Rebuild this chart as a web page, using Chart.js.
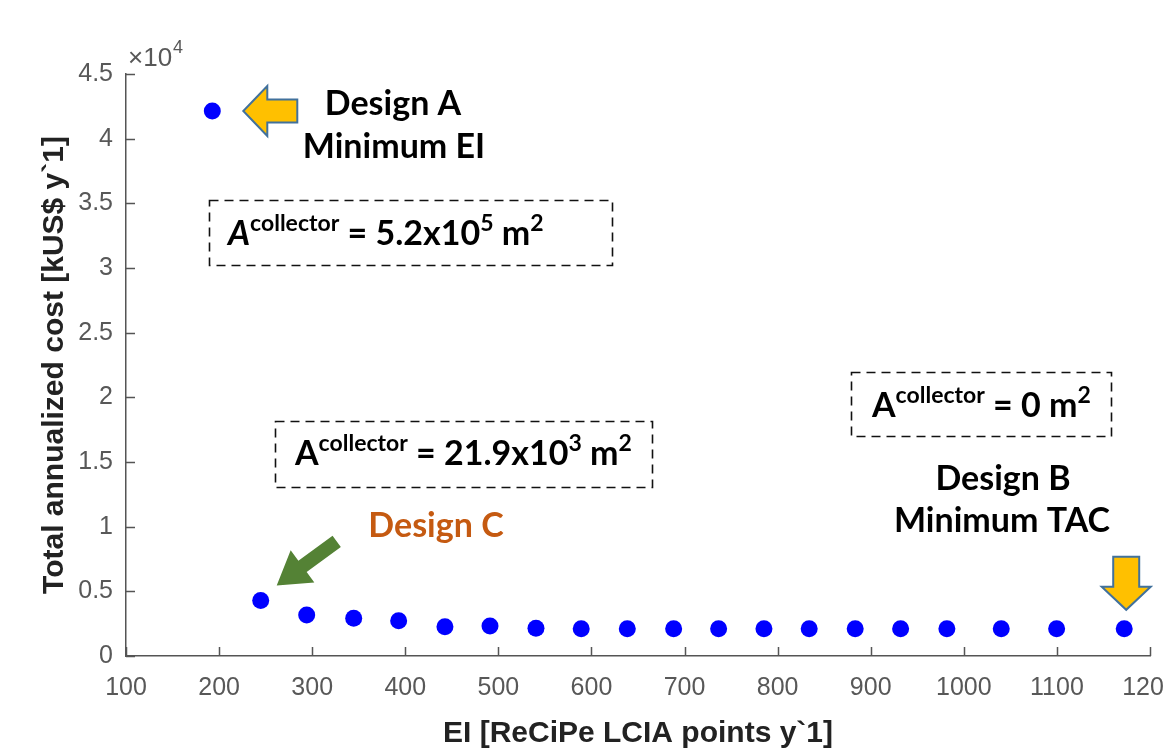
<!DOCTYPE html>
<html>
<head>
<meta charset="utf-8">
<script src="https://cdn.jsdelivr.net/npm/chart.js@4.4.1/dist/chart.umd.min.js"></script>
<style>
html,body{margin:0;padding:0;background:#fff;overflow:hidden;width:1163px;height:754px}
#wrap{position:relative;width:1250px;height:754px}
</style>
</head>
<body>
<div id="wrap"><canvas id="c"></canvas></div>
<script>
// ---- data ----
const eiValues  = [192.7, 244.7, 294.1, 344.6, 392.9, 442.6, 491.0, 540.4, 589.0, 638.5,
                   688.3, 736.6, 785.3, 833.9, 883.3, 932.1, 981.8, 1040.2, 1099.7, 1172.3];
const tacValues = [42140, 4300, 3170, 2910, 2730, 2260, 2320, 2140, 2110, 2110,
                   2110, 2110, 2110, 2110, 2110, 2110, 2110, 2100, 2100, 2100];
const xTickValues = [100, 200, 300, 400, 500, 600, 700, 800, 900, 1000, 1100, 1200];
const xTickLabels = ['100','200','300','400','500','600','700','800','900','1000','1100','1200'];
const yTickValues = [0, 5000, 10000, 15000, 20000, 25000, 30000, 35000, 40000, 45000];
const yTickLabels = ['0','0.5','1','1.5','2','2.5','3','3.5','4','4.5'];
const xTitle = 'EI [ReCiPe LCIA points y`1]';
const yTitle = 'Total annualized cost [kUS$ y`1]';

const AXIS = '#555555';
const TICKTXT = '#585858';
const ANN_FONT = 'Lato, "Open Sans", sans-serif';

Chart.defaults.font.family = '"Liberation Sans", Arial, sans-serif';

function drawRich(ctx, x, y, parts) {
  let cx = x;
  ctx.textAlign = 'left';
  ctx.textBaseline = 'alphabetic';
  parts.forEach(p => {
    ctx.font = (p.italic ? 'italic ' : '') + 'bold ' + p.size + 'px ' + ANN_FONT;
    ctx.fillStyle = p.color || '#000';
    ctx.fillText(p.t, cx, y - (p.rise || 0));
    cx += ctx.measureText(p.t).width;
  });
}
function dashedBox(ctx, x0, y0, x1, y1) {
  ctx.save();
  ctx.setLineDash([9, 6]);
  ctx.lineWidth = 1.6;
  ctx.strokeStyle = '#111';
  ctx.strokeRect(x0, y0, x1 - x0, y1 - y0);
  ctx.restore();
}
function centered(ctx, t, cx, y, size, color) {
  ctx.font = 'bold ' + size + 'px ' + ANN_FONT;
  ctx.fillStyle = color || '#000';
  ctx.textAlign = 'center';
  ctx.textBaseline = 'alphabetic';
  ctx.fillText(t, cx, y);
}
// block arrow pointing from tail to tip
function blockArrow(ctx, tx, ty, hx, hy, shaftW, headW, headL, fill, stroke) {
  const dx = hx - tx, dy = hy - ty, L = Math.hypot(dx, dy);
  const ux = dx / L, uy = dy / L, nx = -uy, ny = ux;
  const bx = hx - ux * headL, by = hy - uy * headL;
  const pts = [
    [tx + nx * shaftW / 2, ty + ny * shaftW / 2],
    [bx + nx * shaftW / 2, by + ny * shaftW / 2],
    [bx + nx * headW / 2, by + ny * headW / 2],
    [hx, hy],
    [bx - nx * headW / 2, by - ny * headW / 2],
    [bx - nx * shaftW / 2, by - ny * shaftW / 2],
    [tx - nx * shaftW / 2, ty - ny * shaftW / 2]
  ];
  ctx.save();
  ctx.beginPath();
  pts.forEach((p, i) => i ? ctx.lineTo(p[0], p[1]) : ctx.moveTo(p[0], p[1]));
  ctx.closePath();
  ctx.fillStyle = fill;
  ctx.fill();
  if (stroke) { ctx.lineWidth = 2; ctx.strokeStyle = stroke; ctx.lineJoin = 'miter'; ctx.stroke(); }
  ctx.restore();
}

const inwardTicks = {
  id: 'inwardTicks',
  afterDraw(chart) {
    const ctx = chart.ctx, xs = chart.scales.x, ys = chart.scales.y;
    const a = chart.chartArea;
    ctx.save();
    ctx.strokeStyle = AXIS;
    ctx.lineWidth = 1.5;
    ctx.beginPath();
    xs.ticks.forEach(t => {
      const px = Math.round(xs.getPixelForValue(t.value)) + 0.5;
      ctx.moveTo(px, a.bottom); ctx.lineTo(px, a.bottom - 9);
    });
    ys.ticks.forEach(t => {
      const py = Math.round(ys.getPixelForValue(t.value)) + 0.5;
      ctx.moveTo(a.left, py); ctx.lineTo(a.left + 9, py);
    });
    ctx.stroke();
    // exponent label
    ctx.fillStyle = TICKTXT;
    ctx.textAlign = 'left';
    ctx.textBaseline = 'alphabetic';
    ctx.font = '26px "Liberation Sans", Arial, sans-serif';
    ctx.fillText('\u00D710', a.left + 2, a.top - 8);
    const w = ctx.measureText('\u00D710').width;
    ctx.font = '18px "Liberation Sans", Arial, sans-serif';
    ctx.fillText('4', a.left + 3 + w, a.top - 21);
    ctx.restore();
  }
};

const annotations = {
  id: 'annotations',
  afterDraw(chart) {
    const ctx = chart.ctx, xs = chart.scales.x, ys = chart.scales.y;
    const pA = [xs.getPixelForValue(eiValues[0]), ys.getPixelForValue(tacValues[0])];
    const pC = [xs.getPixelForValue(eiValues[1]), ys.getPixelForValue(tacValues[1])];
    const n = eiValues.length - 1;
    const pB = [xs.getPixelForValue(eiValues[n]), ys.getPixelForValue(tacValues[n])];
    const YEL = '#FFC000', EDGE = '#41719C';
    // arrow to design A (pointing left)
    blockArrow(ctx, pA[0] + 85, pA[1], pA[0] + 31, pA[1], 23, 50, 24, YEL, EDGE);
    // arrow to design B (pointing down)
    blockArrow(ctx, pB[0] + 2, pB[1] - 72, pB[0] + 2, pB[1] - 19, 26, 49, 23, YEL, EDGE);
    // green arrow to design C
    blockArrow(ctx, pC[0] + 76, pC[1] - 59, pC[0] + 16, pC[1] - 15, 14, 40, 32, '#548235', null);

    const S = 34, s = 23, r = 14;
    centered(ctx, 'Design A', 393, 115, S);
    centered(ctx, 'Minimum EI', 394, 158, S);
    centered(ctx, 'Design C', 436, 537, S, '#C55A11');
    centered(ctx, 'Design B', 1003, 490, S);
    centered(ctx, 'Minimum TAC', 1002, 532, S);

    dashedBox(ctx, 209.5, 200.5, 612.5, 265.5);
    drawRich(ctx, 228, 245, [
      {t: 'A', size: S, italic: true}, {t: 'collector', size: s, rise: r},
      {t: ' = 5.2x10', size: S}, {t: '5', size: s, rise: r},
      {t: ' m', size: S}, {t: '2', size: s, rise: r}
    ]);
    dashedBox(ctx, 275.5, 421.5, 652.5, 487.5);
    drawRich(ctx, 295, 465, [
      {t: 'A', size: S}, {t: 'collector', size: s, rise: r},
      {t: ' = 21.9x10', size: S}, {t: '3', size: s, rise: r},
      {t: ' m', size: S}, {t: '2', size: s, rise: r}
    ]);
    dashedBox(ctx, 851.5, 372.5, 1111.5, 436.5);
    drawRich(ctx, 872, 417, [
      {t: 'A', size: S}, {t: 'collector', size: s, rise: r},
      {t: ' = 0 m', size: S}, {t: '2', size: s, rise: r}
    ]);
  }
};

new Chart(document.getElementById('c'), {
  type: 'scatter',
  data: {
    datasets: [{
      data: eiValues.map((v, i) => ({x: v, y: tacValues[i]})),
      backgroundColor: '#0000FF',
      borderWidth: 0,
      pointRadius: 8.5,
      pointHoverRadius: 8.5
    }]
  },
  options: {
    responsive: true,
    maintainAspectRatio: false,
    animation: false,
    events: [],
    layout: { padding: { top: 74, right: 100, left: 0, bottom: 0 } },
    plugins: { legend: { display: false }, tooltip: { enabled: false } },
    scales: {
      x: {
        type: 'linear', min: 100, max: 1200,
        afterFit: s => { s.height = 98; },
        afterBuildTicks: s => { s.ticks = xTickValues.map(v => ({value: v})); },
        grid: { display: false, drawTicks: false },
        border: { display: true, color: AXIS, width: 1.5 },
        ticks: {
          padding: 17, color: TICKTXT, font: { size: 25 },
          maxRotation: 0, autoSkip: false,
          callback: v => xTickLabels[xTickValues.indexOf(v)]
        },
        title: { display: true, text: xTitle, color: '#222', font: { size: 30, weight: 'bold' }, padding: { top: 0, bottom: 2 } }
      },
      y: {
        type: 'linear', min: 0, max: 45000,
        afterFit: s => { s.width = 126; },
        afterBuildTicks: s => { s.ticks = yTickValues.map(v => ({value: v})); },
        grid: { display: false, drawTicks: false },
        border: { display: true, color: AXIS, width: 1.5 },
        ticks: {
          padding: 13, color: TICKTXT, font: { size: 25 },
          autoSkip: false,
          callback: v => yTickLabels[yTickValues.indexOf(v)]
        },
        title: { display: true, text: yTitle, color: '#222', font: { size: 30, weight: 'bold' }, padding: { top: 37, bottom: 0 } }
      }
    }
  },
  plugins: [inwardTicks, annotations]
});
</script>
</body>
</html>
